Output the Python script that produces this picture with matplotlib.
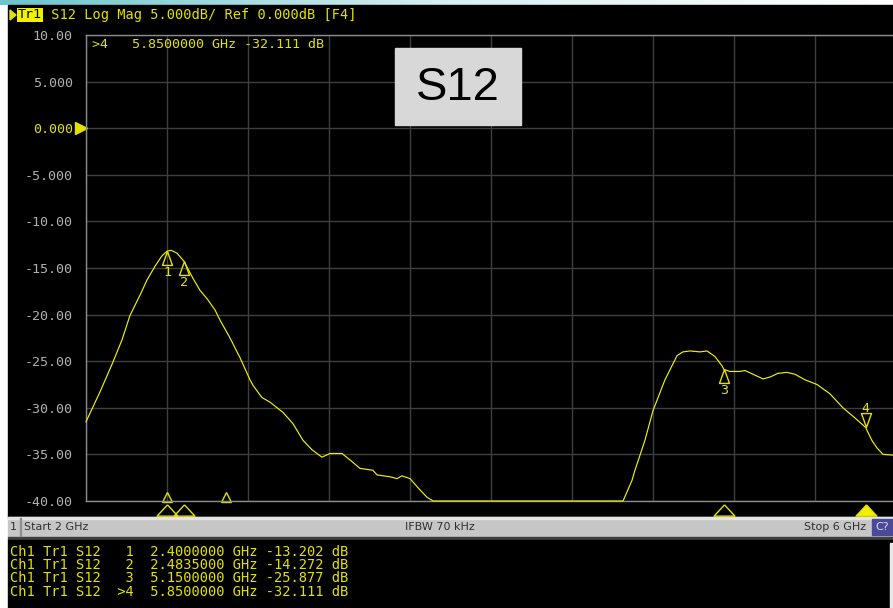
import numpy as np
import matplotlib
matplotlib.use('Agg')
import matplotlib.pyplot as plt
from matplotlib import transforms as mtransforms
from matplotlib.patches import Rectangle, Polygon

# S12 trace, frequency in GHz, magnitude in dB
freq_ghz = [2.000, 2.069, 2.133, 2.178, 2.217, 2.267, 2.301, 2.341, 2.375, 2.400,
            2.420, 2.449, 2.4835, 2.528, 2.563, 2.598, 2.637, 2.662, 2.711, 2.760,
            2.810, 2.825, 2.869, 2.909, 2.973, 3.022, 3.072, 3.116, 3.165, 3.205,
            3.264, 3.304, 3.353, 3.417, 3.437, 3.501, 3.536, 3.560, 3.600, 3.649,
            3.684, 3.714, 4.652, 4.696, 4.711, 4.760, 4.800, 4.859, 4.919, 4.948,
            4.983, 5.032, 5.067, 5.106, 5.141, 5.150, 5.180, 5.230, 5.254, 5.304,
            5.343, 5.378, 5.417, 5.462, 5.501, 5.551, 5.610, 5.674, 5.738, 5.798,
            5.850, 5.881, 5.906, 5.936, 6.000]
s12_db = [-31.5, -28.3, -25.1, -22.7, -20.1, -17.9, -16.3, -14.8, -13.7, -13.202,
          -13.1, -13.4, -14.272, -16.1, -17.4, -18.3, -19.5, -20.6, -22.5, -24.6,
          -27.0, -27.6, -28.9, -29.4, -30.5, -31.7, -33.5, -34.5, -35.3, -34.9,
          -34.9, -35.6, -36.5, -36.7, -37.2, -37.4, -37.6, -37.3, -37.6, -38.8,
          -39.6, -40.0, -40.0, -37.8, -36.7, -33.5, -30.3, -27.0, -24.4, -24.0,
          -23.9, -24.0, -23.9, -24.5, -25.5, -25.877, -26.1, -26.1, -26.0, -26.5,
          -26.9, -26.7, -26.3, -26.2, -26.4, -27.0, -27.5, -28.5, -30.0, -31.1,
          -32.111, -33.5, -34.3, -35.0, -35.1]

# markers
marker_ids = ['1', '2', '3', '4']
marker_freq = [2.4, 2.4835, 5.15, 5.85]
marker_db = [-13.202, -14.272, -25.877, -32.111]
active_idx = 3
aux_freq = [2.4, 2.69]

y_ticks = [10, 5, 0, -5, -10, -15, -20, -25, -30, -35, -40]
y_tick_labels = ['10.00', '5.000', '0.000', '-5.000', '-10.00', '-15.00',
                 '-20.00', '-25.00', '-30.00', '-35.00', '-40.00']
x_grid = np.arange(2.0, 6.01, 0.4)

YEL = '#e2e200'
TRACE = '#f0f000'
MONO = 'DejaVu Sans Mono'
FS = 9.6

W, H = 893, 608
fig = plt.figure(figsize=(W / 100, H / 100), dpi=100, facecolor='white')

# background layer in pixel coordinates
bg = fig.add_axes([0, 0, 1, 1])
bg.set_xlim(0, W)
bg.set_ylim(H, 0)
bg.axis('off')
grad = np.linspace(0, 1, 256)[None, :]
bg.imshow(grad, extent=(0, W, 5, 0), cmap=matplotlib.colors.LinearSegmentedColormap.from_list(
    'g', ['#6cc4cc', '#d8f0f2', '#ffffff']), aspect='auto')
bg.add_patch(Rectangle((8, 5), W - 8, 512, color='black'))
bg.add_patch(Rectangle((8, 517), W - 8, 20, color='#c6c6c6'))
bg.add_patch(Rectangle((8, 517), W - 8, 1.5, color='#e4e4e4'))
bg.add_patch(Rectangle((8, 537), W - 8, 3, color='#404040'))
bg.add_patch(Rectangle((8, 540), W - 8, 68, color='black'))
bg.add_patch(Rectangle((20, 518), 1, 18, color='#909090'))
bg.add_patch(Rectangle((872, 519), 21, 16, color='#4a4a98'))
bg.add_patch(Rectangle((890, 543), 3, 65, color='#e8e8e8'))

# header
bg.add_patch(Polygon([(10, 10), (10, 20), (16, 15)], closed=True, color=YEL))
bg.text(18, 15, 'Tr1', family=MONO, fontsize=FS, color='black', va='center',
        bbox=dict(boxstyle='square,pad=0.05', fc='#f0f000', ec='none'))
bg.text(43, 15, ' S12 Log Mag 5.000dB/ Ref 0.000dB [F4]', family=MONO,
        fontsize=FS + 0.2, color=YEL, va='center')

# status bar
bg.text(10, 527, '1', fontsize=8, color='#303030', va='center')
bg.text(24, 527, 'Start 2 GHz', fontsize=8, color='#303030', va='center')
bg.text(440, 527, 'IFBW 70 kHz', fontsize=8, color='#303030', va='center', ha='center')
bg.text(866, 527, 'Stop 6 GHz', fontsize=8, color='#303030', va='center', ha='right')
bg.text(882, 527, 'C?', fontsize=8, color='#d8d8f0', va='center', ha='center')

# marker table
for i, (mid, f, d) in enumerate(zip(marker_ids, marker_freq, marker_db)):
    tag = ('>' if i == active_idx else ' ') + mid
    row = f'Ch1 Tr1 S12  {tag}  {f:.7f} GHz {d:.3f} dB'
    bg.text(10, 552 + i * 13.2, row, family=MONO, fontsize=9.95, color=YEL, va='center')

# main plot
ax = fig.add_axes([86 / W, 107 / H, 810 / W, 466 / H], facecolor='black')
ax.set_xlim(2.0, 6.0)
ax.set_ylim(-40, 10)
ax.set_xticks(x_grid)
ax.set_xticklabels([])
ax.set_yticks(y_ticks)
ax.set_yticklabels(y_tick_labels, family=MONO, fontsize=FS)
ax.tick_params(length=0)
ax.tick_params(axis='y', pad=9.5, labelcolor='#b0b0b0')
ax.get_yticklabels()[2].set_color(YEL)
ax.grid(True, color='#3e3e3e', linewidth=1.0)
for s in ax.spines.values():
    s.set_color('#8c8c8c')
    s.set_linewidth(1.0)

ax.plot(freq_ghz, s12_db, color=TRACE, linewidth=0.85, zorder=3, clip_on=False)

# reference level arrow
ref_tr = mtransforms.offset_copy(ax.get_yaxis_transform(), fig=fig, x=-5, units='dots')
ax.plot([0], [0], marker='>', markersize=9, color=YEL, transform=ref_tr, clip_on=False)

# trace markers
up_tri = [(0, 0.5), (-0.36, -0.5), (0.36, -0.5), (0, 0.5)]
down_tri = [(0, -0.5), (-0.36, 0.5), (0.36, 0.5), (0, -0.5)]
for i, (mid, f, d) in enumerate(zip(marker_ids, marker_freq, marker_db)):
    if i == active_idx:
        tr = mtransforms.offset_copy(ax.transData, fig=fig, y=7, units='dots')
        ax.plot([f], [d], marker=down_tri, markersize=10, mfc='none', mec=YEL,
                mew=1.0, transform=tr, clip_on=False, zorder=4)
        ax.annotate(mid, (f, d), xytext=(0, 19), textcoords='offset pixels',
                    ha='center', va='center', family=MONO, fontsize=FS, color=YEL)
    else:
        tr = mtransforms.offset_copy(ax.transData, fig=fig, y=-7, units='dots')
        ax.plot([f], [d], marker=up_tri, markersize=10, mfc='none', mec=YEL,
                mew=1.0, transform=tr, clip_on=False, zorder=4)
        ax.annotate(mid, (f, d), xytext=(0, -21), textcoords='offset pixels',
                    ha='center', va='center', family=MONO, fontsize=FS, color=YEL)

# position indicators under the graticule
wide_tri = [(0, 0.27), (-0.5, -0.27), (0.5, -0.27), (0, 0.27)]
ind_tr = mtransforms.offset_copy(ax.get_xaxis_transform(), fig=fig, y=-8.5, units='dots')
for i, f in enumerate(marker_freq):
    filled = i == active_idx
    ax.plot([f], [0], marker=wide_tri, markersize=15, mfc=TRACE if filled else 'none',
            mec=YEL, mew=1.0, transform=ind_tr, clip_on=False)
aux_tr = mtransforms.offset_copy(ax.get_xaxis_transform(), fig=fig, y=4, units='dots')
ax.plot(aux_freq, [0] * len(aux_freq), linestyle='none', marker='^', markersize=6.5,
        mfc='none', mec=YEL, mew=1.0, transform=aux_tr, clip_on=False)

# foreground: readout and S12 label
fg = fig.add_axes([0, 0, 1, 1])
fg.set_xlim(0, W)
fg.set_ylim(H, 0)
fg.axis('off')
f4, d4 = marker_freq[active_idx], marker_db[active_idx]
fg.text(92, 45, f'>{marker_ids[active_idx]}   {f4:.7f} GHz {d4:.3f} dB',
        family=MONO, fontsize=FS, color=YEL, va='center')
fg.add_patch(Rectangle((395, 48), 126, 77, color='#d8d8d8'))
fg.text(458, 88, 'S12', family='Liberation Sans', fontsize=34, color='black',
        ha='center', va='center')

fig.savefig('out.png', dpi=100)
